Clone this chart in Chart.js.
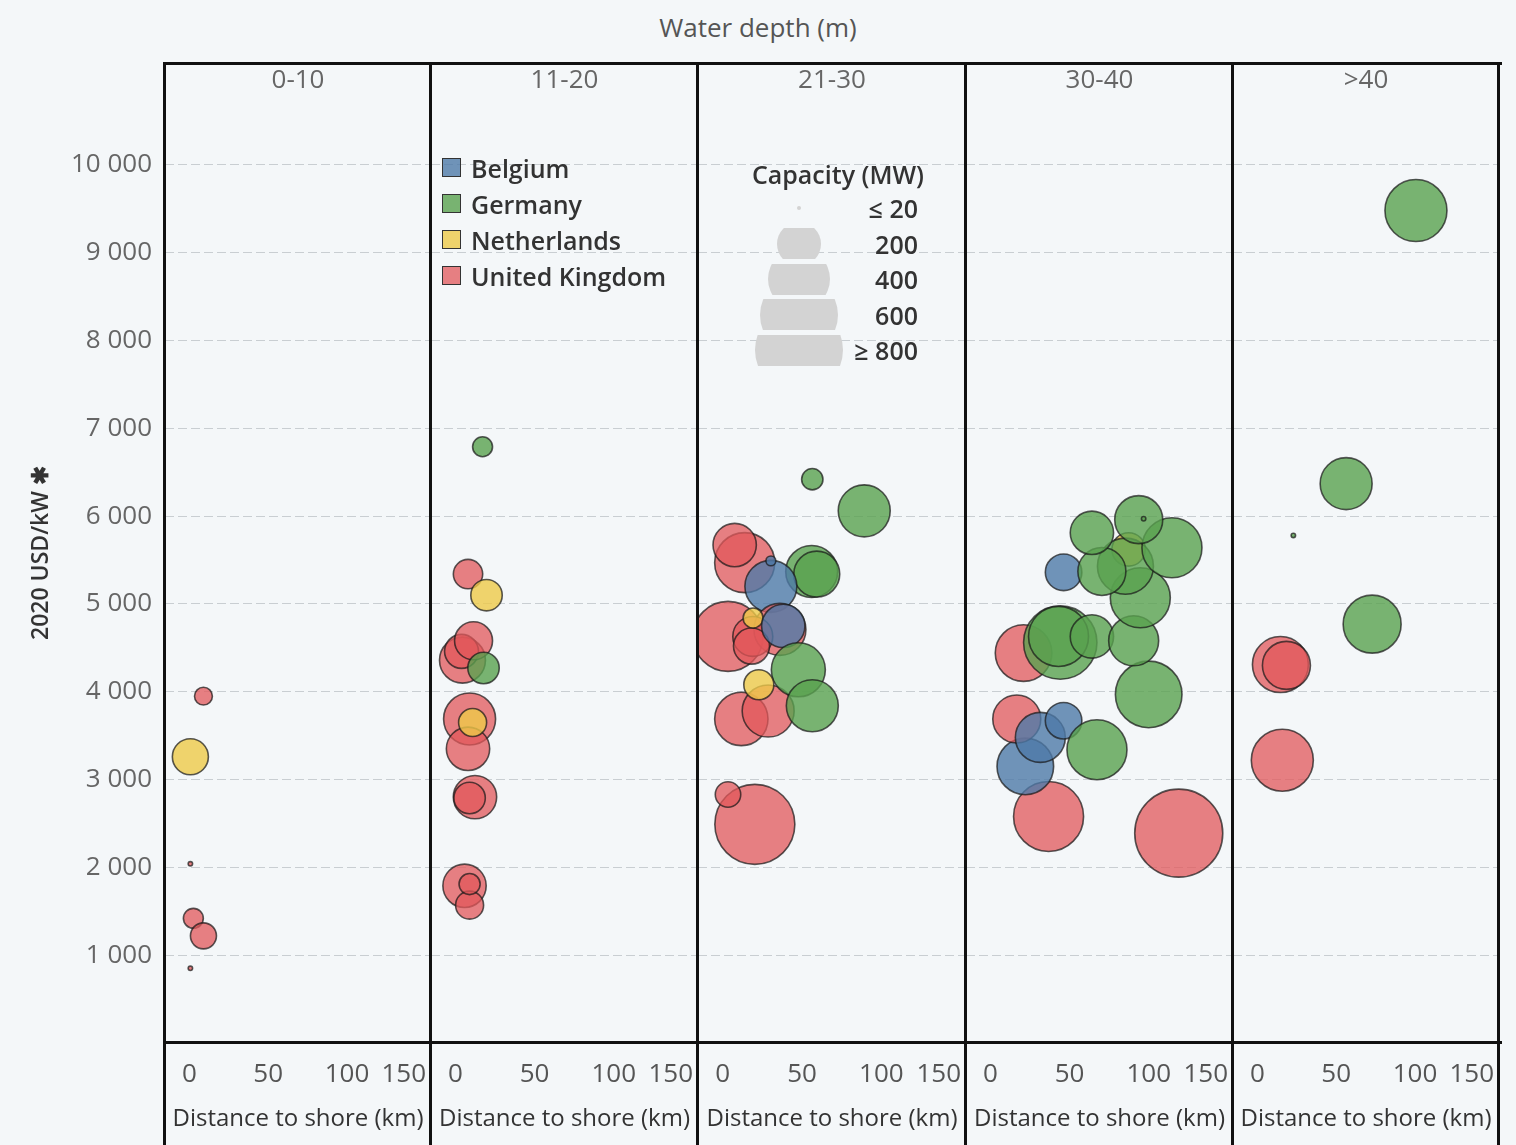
<!DOCTYPE html>
<html>
<head>
<meta charset="utf-8">
<script src="https://cdn.jsdelivr.net/npm/chart.js@4.4.1/dist/chart.umd.min.js"></script>
<style>
    html, body { margin: 0; padding: 0; }
    body {
        width: 1516px; height: 1145px; position: relative; overflow: hidden;
        background: #f4f7f9; font-family: "Open Sans", sans-serif;
    }
    canvas { position: absolute; top: 63px; }
    .line { position: absolute; background: #111; }
    .txt { position: absolute; white-space: nowrap; line-height: 30px; }
    .sw { position: absolute; width: 17px; height: 17px; border: 1.5px solid #333; }
    .cap { position: absolute; overflow: hidden; height: 31px; }
    .cap div { position: absolute; left: 0; border-radius: 50%; background: #d3d3d3; }
</style>
</head>
<body>
<div class="txt" style="left:0; width:1516px; top:12px; text-align:center; font-size:26px; color:#555;">Water depth (m)</div>
<div id="overlay"></div>

<script>
    // facets and axis ticks
    const depthBands = ['0-10', '11-20', '21-30', '30-40', '>40'];
    const countryNames = { BE: 'Belgium', DE: 'Germany', NL: 'Netherlands', UK: 'United Kingdom' };
    const countryKeys = ['BE', 'DE', 'NL', 'UK'];
    const xTicks = [0, 50, 100, 150];
    const yTicks = [1000, 2000, 3000, 4000, 5000, 6000, 7000, 8000, 9000, 10000];
    const capacityLabels = ['≤ 20', '200', '400', '600', '≥ 800'];

    // 0-10 m
    const p1Country  = ['UK', 'NL', 'UK', 'UK', 'UK', 'UK'];
    const p1Distance = [8.9, 0.6, 0.6, 2.5, 8.9, 0.6];
    const p1Cost     = [3950, 3260, 2040, 1420, 1220, 850];
    const p1Capacity = [33, 134, 2, 41, 70, 2];

    // 11-20 m
    const p2Country  = ['UK', 'UK', 'UK', 'DE', 'UK', 'UK', 'NL', 'UK', 'UK', 'UK', 'UK', 'UK', 'UK', 'NL', 'DE'];
    const p2Distance = [4.4, 3.8, 11.4, 17.7, 8.9, 7.9, 10.8, 12.3, 8.9, 5.7, 8.9, 8.9, 7.9, 19.6, 17.1];
    const p2Cost     = [4360, 4460, 4580, 4270, 3690, 3350, 3650, 2800, 2790, 1790, 1570, 1810, 5340, 5100, 6790];
    const p2Capacity = [218, 119, 149, 102, 279, 194, 81, 194, 102, 194, 81, 46, 89, 102, 41];

    // 21-30 m
    const p3Country  = ['UK', 'UK', 'UK', 'UK', 'DE', 'DE', 'BE', 'BE', 'UK', 'UK', 'UK', 'UK', 'NL', 'BE', 'UK', 'UK', 'DE', 'NL', 'DE', 'DE', 'DE'];
    const p3Distance = [20.3, 3.4, 13.9, 7.6, 56.1, 59.3, 30.4, 30.4, 3.4, 36.1, 19.0, 18.2, 19.2, 38.2, 11.8, 28.7, 47.7, 22.8, 56.5, 56.5, 89.2];
    const p3Cost     = [2490, 2830, 5470, 5670, 5370, 5340, 5200, 5490, 4630, 4710, 4630, 4520, 4840, 4750, 3690, 3780, 4250, 4080, 3840, 6420, 6060];
    const p3Capacity = [661, 67, 372, 194, 279, 218, 279, 10, 506, 279, 165, 134, 41, 194, 294, 279, 301, 93, 279, 47, 279];

    // 30-40 m
    const p4Country  = ['UK', 'UK', 'BE', 'UK', 'BE', 'BE', 'DE', 'DE', 'UK', 'DE', 'DE', 'DE', 'DE', 'NL', 'DE', 'BE', 'DE', 'DE', 'DE', 'DE', 'DE', 'DE'];
    const p4Distance = [119, 36.7, 22.0, 16.6, 31.5, 46.2, 67.3, 100, 20.9, 44.1, 43.0, 64.1, 90.5, 87.3, 94.7, 46.2, 85.3, 70.4, 114.7, 64.1, 93.7, 96.8];
    const p4Cost     = [2390, 2580, 3150, 3690, 3480, 3670, 3340, 3970, 4440, 4560, 4630, 4630, 4580, 5620, 5070, 5360, 5430, 5370, 5640, 5810, 5960, 5970];
    const p4Capacity = [800, 506, 331, 238, 258, 138, 372, 458, 331, 556, 372, 194, 258, 115, 372, 138, 324, 238, 372, 194, 238, 2];

    // >40 m
    const p5Country  = ['UK', 'UK', 'UK', 'DE', 'DE', 'DE', 'DE'];
    const p5Distance = [14.6, 18.4, 15.8, 72.8, 56.3, 100.6, 22.8];
    const p5Cost     = [4310, 4300, 3220, 4770, 6370, 9480, 5780];
    const p5Capacity = [324, 238, 397, 347, 279, 397, 2];

    const panels = [
        { country: p1Country, distance: p1Distance, cost: p1Cost, capacity: p1Capacity },
        { country: p2Country, distance: p2Distance, cost: p2Cost, capacity: p2Capacity },
        { country: p3Country, distance: p3Distance, cost: p3Cost, capacity: p3Capacity },
        { country: p4Country, distance: p4Distance, cost: p4Cost, capacity: p4Capacity },
        { country: p5Country, distance: p5Distance, cost: p5Cost, capacity: p5Capacity }
    ];

    const fillColors = {
        BE: 'rgba(78, 121, 167, 0.8)',
        DE: 'rgba(89, 161, 79, 0.8)',
        NL: 'rgba(237, 201, 72, 0.8)',
        UK: 'rgba(225, 87, 89, 0.75)'
    };
    const edges = [165, 431, 698, 966, 1233, 1499];   // panel borders (px)
    const font = 'Open Sans';
    const overlay = document.getElementById('overlay');

    function bubbleRadius(mw) {
        return Math.max(2, 1.556 * Math.sqrt(mw));
    }

    function thousands(v) {
        return String(v).replace(/\B(?=(\d{3})+(?!\d))/g, ' ');
    }

    // x tick labels: centred on the tick, last one kept inside the panel (like the original)
    const xLabels = {
        id: 'xLabels',
        afterDraw(chart) {
            const s = chart.scales.x;
            const a = chart.chartArea;
            const ctx = chart.ctx;
            ctx.save();
            ctx.font = '26px "' + font + '"';
            ctx.fillStyle = '#555';
            ctx.textBaseline = 'middle';
            xTicks.forEach(v => {
                const t = String(v);
                const w = ctx.measureText(t).width;
                const x = Math.min(s.getPixelForValue(v) - w / 2, a.right - w - 5);
                ctx.fillText(t, x, a.bottom + 32);
            });
            ctx.restore();
        }
    };

    function addDiv(cls, style, text) {
        const d = document.createElement('div');
        d.className = cls;
        d.style.cssText = style;
        if (text) d.textContent = text;
        overlay.appendChild(d);
        return d;
    }

    panels.forEach(function (p, i) {
        const first = i === 0;
        const left = first ? 0 : edges[i];
        const width = edges[i + 1] - left;

        const canvas = document.createElement('canvas');
        canvas.width = width;
        canvas.height = 1082;
        canvas.style.left = left + 'px';
        document.body.insertBefore(canvas, overlay);

        const points = p.distance.map((d, k) => ({ x: d, y: p.cost[k], r: bubbleRadius(p.capacity[k]) }));

        new Chart(canvas, {
            type: 'bubble',
            data: {
                datasets: [{
                    data: points,
                    backgroundColor: ctx => fillColors[p.country[ctx.dataIndex]],
                    borderColor: 'rgba(25, 25, 25, 0.72)',
                    borderWidth: 1.6,
                    clip: false
                }]
            },
            options: {
                responsive: false,
                animation: false,
                events: [],
                layout: { autoPadding: false, padding: 0 },
                plugins: { legend: { display: false }, tooltip: { enabled: false } },
                scales: {
                    x: {
                        type: 'linear',
                        min: -15.5,
                        max: 153.3,
                        afterBuildTicks: s => { s.ticks = xTicks.map(v => ({ value: v })); },
                        grid: { display: false, drawTicks: false },
                        border: { display: false },
                        ticks: { display: false },
                        title: {
                            display: true, text: 'Distance to shore (km)', color: '#333',
                            font: { family: font, size: 24 }, padding: { top: 0, bottom: 11 }
                        },
                        afterFit: s => { s.height = 102; s.paddingLeft = 0; s.paddingRight = 0; }
                    },
                    y: {
                        min: 0,
                        max: 11160,
                        afterBuildTicks: s => { s.ticks = yTicks.map(v => ({ value: v })); },
                        grid: { color: '#c9ced2', lineWidth: 1, drawTicks: false },
                        border: { display: false, dash: [9, 4] },
                        ticks: {
                            display: first, padding: 13, color: '#666',
                            font: { family: font, size: 26 },
                            callback: v => thousands(v)
                        },
                        title: {
                            display: first, text: '2020 USD/kW ✱', color: '#333',
                            font: { family: font, size: 23, weight: '600' }, padding: { top: 28, bottom: 0 }
                        },
                        afterFit: s => { s.width = first ? 165 : 0; s.paddingTop = 0; s.paddingBottom = 0; }
                    }
                }
            },
            plugins: [xLabels]
        });

        // facet header
        addDiv('txt', 'left:' + edges[i] + 'px; width:' + (edges[i + 1] - edges[i]) + 'px; top:63px; text-align:center; font-size:26px; color:#666;', depthBands[i]);
    });

    // panel frame
    edges.forEach(e => addDiv('line', 'left:' + (e - 2) + 'px; top:62px; width:3px; height:1083px;'));
    addDiv('line', 'left:163px; top:62px; width:1339px; height:3px;');
    addDiv('line', 'left:163px; top:1041px; width:1339px; height:3px;');

    // country legend
    countryKeys.forEach(function (k, j) {
        const cy = 168 + j * 36;
        addDiv('sw', 'left:442px; top:' + (cy - 10) + 'px; background:' + fillColors[k] + ';');
        addDiv('txt', 'left:471px; top:' + (cy - 15) + 'px; font-size:25px; font-weight:600; color:#333;', countryNames[k]);
    });

    // capacity legend
    addDiv('txt', 'left:738px; width:200px; top:159px; text-align:center; font-size:25px; font-weight:600; color:#333;', 'Capacity (MW)');
    const capDiameters = [4, 44, 62, 78, 88];
    capacityLabels.forEach(function (lab, j) {
        const cy = 208 + j * 35.5;
        const d = capDiameters[j];
        const box = addDiv('cap', 'left:' + (799 - d / 2) + 'px; width:' + d + 'px; top:' + (cy - 15.5) + 'px;');
        const c = document.createElement('div');
        c.style.cssText = 'width:' + d + 'px; height:' + d + 'px; top:' + (15.5 - d / 2) + 'px;';
        box.appendChild(c);
        addDiv('txt', 'left:818px; width:100px; top:' + (cy - 15) + 'px; text-align:right; font-size:25px; font-weight:600; color:#333;', lab);
    });
</script>
</body>
</html>
